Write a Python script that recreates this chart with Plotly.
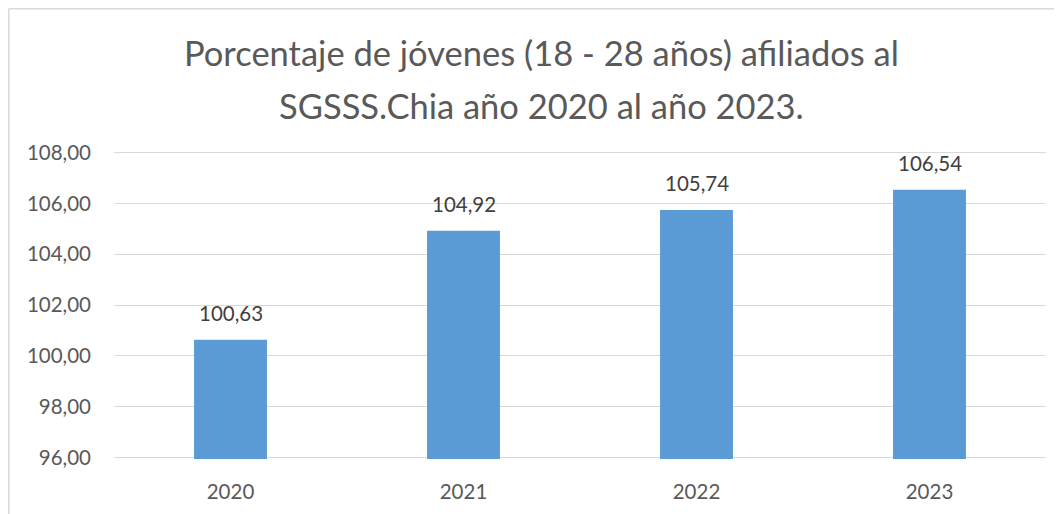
import plotly.graph_objects as go

years = ["2020", "2021", "2022", "2023"]
values = [100.63, 104.92, 105.74, 106.54]
y_ticks = [96, 98, 100, 102, 104, 106, 108]
title_lines = ["Porcentaje de jóvenes (18 - 28 años) afiliados al", "SGSSS.Chia año 2020 al año 2023."]

FONT = "Lato, 'Open Sans', sans-serif"
# page has an 8px body margin, so figure coords = page coords - 8
W, H = 1054, 506
L, R, T, B = 106, 16, 143, 55
pw, ph = W - L - R, H - T - B

fig = go.Figure()
fig.add_trace(go.Bar(
    x=years, y=values,
    text=[f"{v:.2f}".replace(".", ",") for v in values],
    textposition="none",
    marker=dict(color="#5B9BD5", line=dict(width=0)),
    hoverinfo="x+y",
))

for i, v in enumerate(values):
    fig.add_annotation(
        x=i, y=v, xref="x", yref="y",
        text=f"{v:.2f}".replace(".", ","),
        showarrow=False, yanchor="bottom", xanchor="center", yshift=13,
        font=dict(family=FONT, size=20.5, color="#404040"),
    )

# title lines (centered on the whole chart area)
title_x = (533 - L) / pw
for line, ycen in zip(title_lines, [44, 97]):
    fig.add_annotation(
        x=title_x, xref="paper", xanchor="center",
        y=(H - B - ycen) / ph, yref="paper", yanchor="middle",
        text=line, showarrow=False,
        font=dict(family=FONT, size=34.5, color="#595959"),
    )

# chart border (left and top visible)
bx = (0.75 - L) / pw
by_top = (H - B - 0.75) / ph
by_bot = (H - B - H - 10) / ph
fig.add_shape(type="line", xref="paper", yref="paper", x0=bx, x1=bx, y0=by_bot, y1=by_top,
              line=dict(color="#D9D9D9", width=1.5))
fig.add_shape(type="line", xref="paper", yref="paper", x0=bx, x1=(W + 10 - L) / pw, y0=by_top, y1=by_top,
              line=dict(color="#D9D9D9", width=1.5))

fig.update_layout(
    width=W, height=H,
    margin=dict(l=L, r=R, t=T, b=B),
    paper_bgcolor="white", plot_bgcolor="white",
    separators=",.",
    bargap=0.687,
    showlegend=False,
    font=dict(family=FONT, size=20.5, color="#595959"),
    xaxis=dict(
        type="category", categoryorder="array", categoryarray=years,
        range=[-0.5, len(years) - 0.5], autorange=False,
        showgrid=False, showline=False, ticks="",
        tickfont=dict(size=20.5, color="#595959"),
        ticklabelstandoff=18,
    ),
    yaxis=dict(
        range=[95.94, 108.06], autorange=False, tickvals=y_ticks, tickformat=".2f",
        showgrid=True, gridcolor="#D9D9D9", gridwidth=1.3,
        zeroline=False, showline=False, ticks="",
        tickfont=dict(size=20.5, color="#595959"),
        ticklabelstandoff=22,
    ),
)

fig.write_html("out.html")
